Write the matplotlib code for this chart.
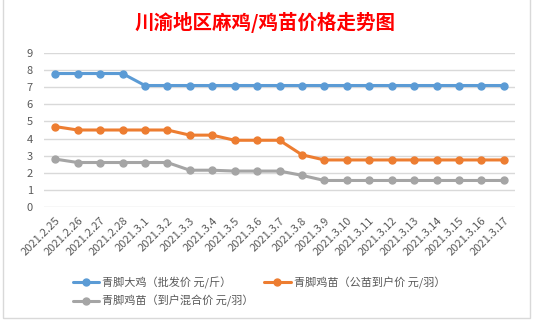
import matplotlib
matplotlib.use("Agg")
import matplotlib.pyplot as plt
from matplotlib.patches import Rectangle

plt.rcParams['font.family'] = ['Noto Sans CJK SC', 'DejaVu Sans']

dates = ["2021.2.25", "2021.2.26", "2021.2.27", "2021.2.28", "2021.3.1", "2021.3.2",
         "2021.3.3", "2021.3.4", "2021.3.5", "2021.3.6", "2021.3.7", "2021.3.8",
         "2021.3.9", "2021.3.10", "2021.3.11", "2021.3.12", "2021.3.13", "2021.3.14",
         "2021.3.15", "2021.3.16", "2021.3.17"]
big_chicken = [7.8, 7.8, 7.8, 7.8, 7.1, 7.1, 7.1, 7.1, 7.1, 7.1, 7.1, 7.1,
               7.1, 7.1, 7.1, 7.1, 7.1, 7.1, 7.1, 7.1, 7.1]
male_chick = [4.7, 4.5, 4.5, 4.5, 4.5, 4.5, 4.2, 4.2, 3.9, 3.9, 3.9, 3.05,
              2.75, 2.75, 2.75, 2.75, 2.75, 2.75, 2.75, 2.75, 2.75]
mixed_chick = [2.8, 2.6, 2.6, 2.6, 2.6, 2.6, 2.15, 2.15, 2.1, 2.1, 2.1, 1.85,
               1.55, 1.55, 1.55, 1.55, 1.55, 1.55, 1.55, 1.55, 1.55]
series_names = ["青脚大鸡（批发价 元/斤）", "青脚鸡苗（公苗到户价 元/羽）", "青脚鸡苗（到户混合价 元/羽）"]
colors = ["#5B9BD5", "#ED7D31", "#A5A5A5"]
title = "川渝地区麻鸡/鸡苗价格走势图"

W, H = 533, 323
fig = plt.figure(figsize=(W / 100, H / 100), dpi=100)
fig.patch.set_facecolor("white")

# chart border
fig.patches.append(Rectangle((3 / W, 1 - 318 / H), (530 - 3) / W, 318 / H + 0.02,
                             transform=fig.transFigure, fill=False,
                             edgecolor="#D9D9D9", linewidth=1.0))

ax = fig.add_axes([44 / W, 1 - 207 / H, (515 - 44) / W, (207 - 53) / H])
x = list(range(len(dates)))
handles = []
for vals, name, c in zip([big_chicken, male_chick, mixed_chick], series_names, colors):
    h, = ax.plot(x, vals, color=c, linewidth=2.2, marker='o', markersize=5,
                 label=name, solid_capstyle='round', zorder=3)
    handles.append(h)

ax.set_xlim(-0.5, len(dates) - 0.5)
ax.set_ylim(0, 9)
ax.set_yticks(range(0, 10))
ax.set_xticks(x)
ax.set_xticklabels(dates, rotation=45, ha='right', va='top', rotation_mode='anchor')
ax.tick_params(axis='both', length=0, labelsize=8, labelcolor='#595959')
ax.tick_params(axis='y', pad=8)
ax.tick_params(axis='x', pad=6)
ax.grid(axis='y', color='#D9D9D9', linewidth=1.0)
ax.set_axisbelow(True)
for s in ax.spines.values():
    s.set_visible(False)

fig.text(265 / W, 1 - 22 / H, title, color='#FF0000', fontsize=14, fontweight='bold',
         ha='center', va='center')

leg = fig.legend([handles[0], handles[2], handles[1]],
                 [series_names[0], series_names[2], series_names[1]],
                 ncol=2, loc='center', bbox_to_anchor=(259 / W, 1 - 292 / H),
                 frameon=False, fontsize=8, handlelength=2.4, handletextpad=0.3,
                 columnspacing=0.9, labelspacing=0.6, borderpad=0)
for t in leg.get_texts():
    t.set_color('#595959')

fig.savefig("out.png", dpi=100)
